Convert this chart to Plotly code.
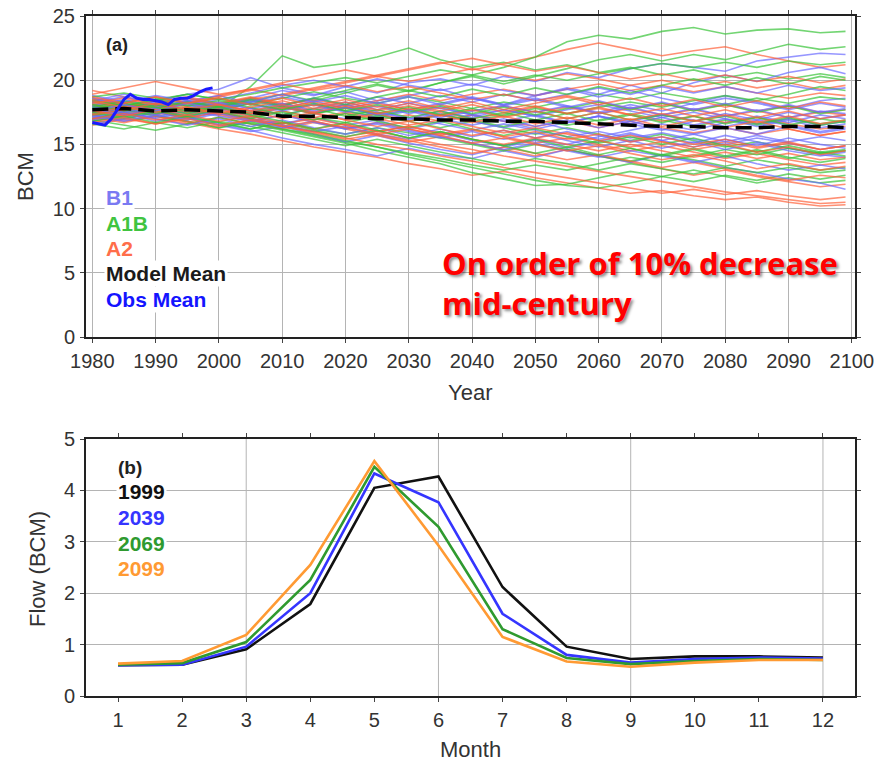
import plotly.graph_objects as go

# ---------------- data: panel (a) ----------------
years5 = [1980, 1985, 1990, 1995, 2000, 2005, 2010, 2015, 2020, 2025, 2030, 2035,
          2040, 2045, 2050, 2055, 2060, 2065, 2070, 2075, 2080, 2085, 2090, 2095, 2099]

b1_runs = [
    [17.5,17.9,18.2,17.6,18.0,18.6,19.2,18.8,19.5,19.0,19.8,20.1,19.6,20.3,19.9,20.6,20.2,20.9,21.3,21.0,20.7,21.5,21.8,22.1,22.0],
    [18.2,17.6,18.4,18.9,19.3,20.2,19.4,18.9,19.1,18.4,18.8,19.3,18.6,18.1,18.8,19.4,18.9,19.6,19.0,19.8,20.4,19.9,20.6,21.0,20.5],
    [17.0,17.4,16.8,17.3,17.8,17.2,16.6,17.1,16.5,16.9,16.2,16.7,17.3,16.8,16.2,16.7,17.2,16.6,16.1,16.8,17.4,16.9,17.5,17.0,17.3],
    [16.8,17.2,17.7,17.1,16.5,16.0,16.4,15.8,15.2,15.7,15.1,14.6,14.2,14.8,15.3,14.7,15.2,15.8,15.3,14.8,15.4,14.9,15.5,15.0,14.7],
    [18.6,18.1,17.7,18.3,17.9,17.3,17.8,18.4,17.8,18.3,17.7,18.2,18.7,18.1,18.6,18.0,17.5,18.1,17.6,18.2,18.8,18.3,17.8,18.4,18.6],
    [17.3,16.9,17.5,17.0,16.6,16.1,15.5,15.0,14.6,14.1,14.7,14.2,13.9,14.5,14.0,14.6,14.1,13.6,14.2,13.7,13.2,12.8,12.3,12.0,11.5],
    [18.0,18.5,17.9,18.4,18.8,18.2,18.7,18.2,17.6,17.1,17.6,17.0,16.5,17.0,16.4,16.9,16.3,16.8,16.2,15.8,16.3,15.8,16.4,15.9,16.2],
    [17.7,17.2,17.8,17.4,17.9,18.5,18.0,17.4,17.9,17.3,16.9,17.4,16.8,16.3,16.8,16.2,15.7,15.2,15.6,15.1,15.7,15.2,14.7,14.2,14.0],
    [16.6,17.0,17.5,17.0,17.5,17.0,16.5,16.0,16.4,15.8,15.4,15.9,15.3,14.9,15.4,15.0,15.6,16.1,16.6,16.1,16.7,17.2,16.7,17.3,17.0],
    [18.4,18.9,18.4,18.0,18.5,19.0,19.6,20.0,19.5,20.1,19.6,19.2,19.7,19.2,18.8,19.3,18.7,19.2,18.6,18.1,18.6,18.2,17.7,18.2,17.9],
    [17.9,17.5,17.1,17.6,17.2,16.8,17.3,16.7,16.2,16.7,16.1,15.6,15.1,14.6,15.1,14.5,14.0,14.5,14.1,13.6,14.1,13.5,13.0,13.4,13.1],
    [17.1,17.6,18.1,17.7,18.2,17.8,17.3,17.8,18.3,17.7,18.2,17.8,17.3,17.7,17.2,17.7,18.1,17.6,17.1,17.5,17.0,16.6,17.0,16.5,16.8],
    [18.8,18.3,18.8,18.4,17.9,17.4,17.9,17.4,17.0,17.5,17.1,16.6,16.1,16.6,16.1,15.6,16.0,15.5,15.9,15.4,15.0,15.5,15.1,14.6,14.9],
    [17.4,17.8,17.3,17.9,18.3,17.8,18.2,17.6,18.1,17.5,17.0,17.6,17.1,17.7,17.2,16.7,17.2,16.8,17.3,16.9,16.4,16.9,16.5,16.0,16.3],
    [18.0,17.5,17.9,18.4,17.9,18.4,18.0,18.6,18.1,18.7,18.2,18.8,18.3,18.9,18.4,18.9,19.4,18.9,19.5,19.0,19.5,19.0,19.6,19.2,19.4],
    [16.9,17.4,17.0,16.5,17.0,16.4,16.9,16.3,15.8,16.3,15.7,16.2,15.6,16.1,15.5,16.0,15.4,15.9,15.3,15.8,15.2,15.7,15.2,15.6,15.3],
    [17.8,17.3,17.8,17.2,17.6,18.2,17.6,18.1,17.5,18.0,17.4,17.9,17.3,16.8,17.3,16.7,17.2,16.6,17.1,16.5,17.0,16.4,16.9,16.3,16.6],
    [18.3,18.7,18.2,18.6,18.1,17.6,18.1,17.5,17.9,17.3,17.7,17.1,17.6,18.0,17.5,18.0,17.4,17.9,17.3,17.8,17.2,17.7,17.1,17.6,17.4],
    [17.2,16.8,17.3,16.9,17.4,16.9,16.3,16.8,16.2,16.6,16.0,15.5,16.0,15.4,15.9,15.3,14.8,15.3,14.7,15.2,14.6,15.1,14.5,14.1,14.4],
    [17.6,18.1,17.6,18.2,17.7,18.3,18.9,18.3,18.8,18.2,18.7,18.1,18.6,18.0,18.5,17.9,18.4,17.8,18.3,17.7,18.2,17.6,18.1,17.5,17.8],
]

a1b_runs = [
    [17.6,18.0,17.5,17.1,17.8,19.5,21.9,21.0,21.3,21.8,22.5,21.6,21.0,21.4,20.8,21.2,20.6,21.0,20.4,20.8,20.2,20.6,20.1,20.5,20.2],
    [17.9,17.4,17.9,18.3,17.8,18.3,18.9,18.4,19.0,19.6,19.1,19.8,20.4,21.0,21.8,23.0,23.5,23.2,23.8,24.1,23.6,23.9,24.0,23.7,23.8],
    [17.2,17.7,17.3,16.8,16.3,16.8,16.2,15.7,15.2,14.8,14.2,13.7,13.2,12.7,12.2,11.8,11.6,12.0,12.5,12.1,12.6,12.2,12.7,12.3,12.6],
    [18.3,17.8,18.2,17.7,18.1,18.6,18.1,18.6,19.2,19.7,19.2,19.8,20.3,19.7,20.3,20.9,21.6,22.0,21.5,22.0,21.6,22.2,22.8,22.4,22.6],
    [16.9,16.5,16.1,16.6,17.1,16.6,16.1,15.6,15.1,14.5,14.0,13.5,12.8,12.3,11.8,11.9,12.4,12.9,12.5,13.0,12.5,12.0,12.4,12.0,12.2],
    [17.8,18.2,17.7,18.1,17.6,17.1,17.6,17.1,16.7,17.2,16.8,16.3,16.8,16.3,15.8,16.3,15.8,15.3,15.8,15.3,14.8,15.2,14.7,14.3,14.5],
    [18.5,18.0,18.5,18.9,18.5,18.1,18.6,19.1,18.6,18.2,18.7,18.3,17.8,18.3,17.9,18.4,18.9,18.5,19.0,18.6,18.1,18.6,18.2,18.7,18.5],
    [17.4,17.0,17.5,17.1,16.7,16.2,16.7,16.2,15.8,16.3,15.9,15.5,15.0,14.5,15.0,14.6,14.1,13.7,14.2,13.8,13.3,13.8,13.4,13.0,13.2],
    [17.0,17.5,18.0,17.5,17.9,18.4,17.9,17.4,17.8,17.3,16.8,17.3,16.9,16.4,16.9,16.5,16.9,17.4,16.9,16.4,16.9,16.5,17.0,16.6,16.9],
    [18.1,17.7,17.2,16.8,16.3,16.7,16.2,15.8,15.3,14.8,14.3,13.9,13.4,13.0,13.4,13.0,13.5,14.0,13.6,14.1,14.6,14.2,14.7,14.3,14.5],
    [17.5,17.9,18.4,18.9,18.5,18.9,19.4,19.8,20.2,19.8,20.3,20.8,20.4,19.9,20.4,20.0,20.5,20.9,21.3,21.0,21.4,21.0,21.5,21.2,21.4],
    [16.6,16.2,16.7,16.3,16.8,16.4,15.9,15.4,14.9,15.4,14.9,14.4,13.9,13.4,13.9,13.5,13.0,13.5,13.1,12.7,13.2,12.8,13.2,12.8,13.0],
    [18.7,19.0,18.6,18.2,18.6,18.1,17.7,18.1,17.6,17.2,17.7,17.3,16.8,17.3,17.8,17.4,17.9,18.3,17.9,18.4,18.8,18.4,18.9,19.5,19.2],
    [17.3,17.8,17.4,17.9,17.5,17.0,17.5,16.9,17.4,16.8,16.3,16.8,16.2,15.7,16.2,15.6,15.1,15.6,15.0,15.5,14.9,14.4,14.9,14.4,14.6],
    [18.1,17.6,18.1,17.6,18.0,17.5,18.0,17.4,17.9,17.4,17.9,17.3,17.8,17.2,17.6,17.0,17.5,16.9,17.3,16.8,17.2,16.6,17.1,16.5,16.8],
    [17.7,18.2,17.8,18.3,17.9,18.5,18.0,18.6,18.1,18.7,19.2,18.7,19.3,18.8,19.4,18.9,19.5,19.0,19.6,20.1,19.6,20.2,19.7,20.3,20.0],
    [16.8,17.2,16.7,17.2,16.7,16.2,16.7,16.1,15.6,16.1,15.5,16.0,15.4,14.9,15.4,14.8,15.3,14.7,14.2,14.7,14.1,14.6,14.0,13.6,13.9],
    [18.4,18.0,18.5,18.0,18.4,17.9,17.3,17.8,17.2,17.7,17.1,17.6,17.0,17.5,16.9,17.4,16.8,17.3,16.7,17.2,16.6,17.1,16.5,17.0,16.7],
    [17.5,17.1,17.6,17.2,17.7,18.2,17.7,18.2,17.6,18.1,17.5,18.0,17.4,17.9,17.3,17.8,18.3,17.7,18.2,17.6,18.1,17.5,18.0,17.4,17.7],
    [17.9,18.4,17.9,17.4,17.9,17.3,16.8,16.2,16.7,16.1,15.5,16.0,15.4,14.9,14.3,14.8,14.2,14.7,14.1,14.6,14.0,14.5,13.9,14.4,14.1],
]

a2_runs = [
    [17.8,18.3,17.9,18.4,18.0,18.5,18.9,19.4,19.9,20.4,20.9,21.4,20.8,21.3,21.8,22.4,22.9,22.4,21.9,22.3,22.6,22.0,21.5,21.0,21.2],
    [17.3,16.8,17.2,16.7,16.2,15.8,15.3,14.8,14.4,14.0,13.5,13.1,12.6,12.9,12.4,12.0,11.6,11.2,11.4,11.0,10.7,10.9,10.5,10.2,10.3],
    [18.6,18.2,18.7,18.3,18.8,19.3,18.8,19.3,19.8,20.3,19.9,20.4,20.9,20.4,20.0,20.5,20.1,19.6,20.0,19.5,19.9,19.4,19.8,19.3,19.6],
    [17.0,17.5,17.0,16.6,17.1,16.6,16.2,16.7,16.2,15.7,15.2,15.6,15.1,14.6,14.1,14.6,14.1,13.6,13.1,12.6,13.0,12.5,12.1,11.7,11.9],
    [18.0,17.6,18.1,17.7,17.3,17.8,17.3,16.9,17.4,16.9,17.3,16.8,17.3,16.8,16.4,16.8,16.3,16.8,16.3,15.9,16.3,15.8,16.2,15.7,16.0],
    [16.5,17.0,16.6,17.1,17.5,17.0,16.5,16.0,15.5,15.0,14.6,14.1,13.7,13.2,12.8,12.4,12.0,11.6,11.2,11.5,11.1,11.4,11.0,10.7,10.9],
    [19.2,18.7,18.3,18.7,18.2,18.6,18.1,18.5,18.0,18.4,18.9,18.4,18.9,19.3,18.8,19.3,19.7,19.2,19.6,19.1,19.5,19.0,18.6,19.0,18.8],
    [17.5,17.9,17.4,17.8,17.3,16.8,17.3,16.8,16.3,16.7,16.2,15.7,16.1,15.6,15.1,15.5,15.0,14.5,14.9,14.4,13.9,14.3,13.8,13.4,13.6],
    [18.3,17.8,17.3,17.8,18.2,18.7,18.2,17.7,18.1,17.6,18.0,17.5,17.0,17.4,17.9,17.4,17.8,17.3,16.8,17.2,16.7,17.1,16.6,16.2,16.4],
    [17.1,16.7,17.2,16.8,16.4,16.9,16.4,15.9,15.4,15.8,15.3,14.8,14.3,14.8,14.3,13.8,14.2,13.7,13.2,13.6,13.1,12.6,12.2,12.6,12.4],
    [18.9,19.4,19.9,19.4,18.9,19.3,19.8,20.3,20.8,20.3,20.8,21.3,21.7,21.2,20.7,21.1,20.6,20.1,20.5,20.0,20.4,19.9,20.3,19.8,20.1],
    [17.6,18.0,17.6,17.1,17.5,17.0,16.6,17.0,16.5,16.0,16.4,15.9,15.4,15.0,15.5,15.0,14.5,15.0,14.5,14.0,14.4,13.9,14.3,13.8,14.0],
    [16.9,17.3,17.8,18.2,17.7,17.2,17.6,17.1,17.5,17.0,16.5,16.9,16.4,15.9,16.3,15.8,15.3,15.7,15.2,14.8,15.2,14.7,15.1,14.6,14.9],
    [18.1,17.6,18.0,17.5,17.9,17.4,17.8,18.3,17.8,18.2,17.7,18.1,17.6,18.0,17.5,17.9,17.4,17.8,17.3,17.7,17.2,17.6,17.1,17.5,17.3],
    [17.4,17.9,18.4,17.9,17.4,16.9,16.4,16.0,15.6,16.0,15.5,15.0,14.6,14.1,13.7,13.3,12.9,12.5,12.1,11.7,11.3,11.0,10.7,10.4,10.5],
    [18.5,18.1,17.7,18.2,18.7,19.2,19.7,19.2,19.6,19.1,19.5,19.0,18.5,18.9,18.4,18.8,18.3,17.8,18.2,17.7,18.1,17.6,18.0,17.5,17.7],
    [17.6,17.2,17.7,17.3,17.8,17.4,17.9,17.4,16.9,17.4,16.8,17.3,16.7,17.2,16.6,17.1,16.5,17.0,16.4,16.9,16.3,16.8,16.2,15.7,16.0],
    [18.2,18.6,18.1,18.6,18.1,17.6,18.1,17.5,18.0,17.4,17.8,17.2,17.7,17.1,17.6,17.0,17.5,16.9,17.4,16.8,17.3,16.7,17.2,16.6,16.9],
    [17.0,17.4,16.9,17.3,16.8,17.2,16.7,16.2,16.6,16.0,16.4,15.8,16.2,15.6,16.0,15.4,15.8,15.2,15.6,15.0,15.4,14.8,15.2,14.6,14.9],
    [18.7,18.2,18.7,18.2,18.6,18.1,18.6,18.0,18.5,17.9,18.4,17.8,18.3,17.7,18.2,18.7,18.1,18.6,18.0,18.5,17.9,18.4,17.8,18.3,18.0],
    [17.3,17.7,18.2,17.7,18.1,17.6,17.0,17.5,16.9,16.4,16.8,16.2,15.7,16.1,15.5,15.9,15.3,14.8,15.2,14.6,15.0,14.4,14.8,14.2,14.5],
    [18.4,17.9,17.5,17.9,17.4,17.9,18.4,17.8,18.3,17.7,18.2,17.6,18.1,17.5,18.0,17.4,17.9,17.3,17.8,17.2,17.7,17.1,17.6,17.0,17.3],
    [16.7,17.1,16.6,17.0,16.5,16.9,16.4,16.8,16.3,15.8,16.2,15.7,15.1,15.5,15.0,14.5,14.9,14.3,13.8,14.2,13.7,13.1,13.5,13.0,13.3],
]

model_mean = [17.7,17.8,17.6,17.7,17.6,17.5,17.2,17.2,17.1,17.0,17.0,16.9,
              16.9,16.8,16.8,16.7,16.6,16.5,16.4,16.4,16.3,16.3,16.4,16.4,16.3]

obs_years = list(range(1980, 2000))
obs_mean = [16.7,16.6,16.5,17.0,17.8,18.5,18.9,18.6,18.5,18.5,
            18.4,18.3,18.1,18.5,18.6,18.6,18.8,19.1,19.3,19.4]

year_ticks = list(range(1980, 2101, 10))

# ---------------- data: panel (b) ----------------
months = list(range(1, 13))
flow_1999 = [0.60,0.61,0.91,1.79,4.05,4.27,2.12,0.96,0.72,0.77,0.77,0.75]
flow_2039 = [0.60,0.61,0.96,2.00,4.33,3.77,1.60,0.80,0.65,0.72,0.75,0.73]
flow_2069 = [0.61,0.64,1.05,2.26,4.46,3.29,1.30,0.74,0.62,0.68,0.72,0.70]
flow_2099 = [0.63,0.68,1.19,2.55,4.57,2.93,1.15,0.67,0.57,0.65,0.70,0.70]
month_grid = [3, 6, 9, 12]

# ---------------- layout geometry helpers ----------------
W, H = 882, 761
ML, MR, MT, MB = 86, 27, 16, 65
PW, PH = W - ML - MR, H - MT - MB


def px_x(px):
    return (px - ML) / PW


def px_y(py):
    return (H - MB - py) / PH


C_B1 = "rgba(105,105,255,0.7)"
C_A1B = "rgba(55,195,55,0.7)"
C_A2 = "rgba(255,95,55,0.7)"

fig = go.Figure()

nmax = max(len(b1_runs), len(a1b_runs), len(a2_runs))
for i in range(nmax):
    for runs, col in ((b1_runs, C_B1), (a1b_runs, C_A1B), (a2_runs, C_A2)):
        if i < len(runs):
            fig.add_trace(go.Scatter(x=years5, y=runs[i], mode="lines",
                                     line=dict(color=col, width=1.6),
                                     xaxis="x", yaxis="y", showlegend=False,
                                     hoverinfo="skip"))

fig.add_trace(go.Scatter(x=years5, y=model_mean, mode="lines",
                         line=dict(color="black", width=3.5, dash="16px,7px"),
                         xaxis="x", yaxis="y", showlegend=False))
fig.add_trace(go.Scatter(x=obs_years, y=obs_mean, mode="lines",
                         line=dict(color="#1a1aff", width=3),
                         xaxis="x", yaxis="y", showlegend=False))

for vals, col in ((flow_1999, "#111111"), (flow_2039, "#3535ff"),
                  (flow_2069, "#2f9a2f"), (flow_2099, "#ff9a33")):
    fig.add_trace(go.Scatter(x=months, y=vals, mode="lines",
                             line=dict(color=col, width=2.6),
                             xaxis="x2", yaxis="y2", showlegend=False))

tickfont = dict(family="Liberation Sans, Arial, sans-serif", size=20, color="#333333")
axis_common = dict(showline=True, linecolor="#222222", linewidth=2, mirror="ticks",
                   ticks="outside", ticklen=4, tickcolor="#444444", tickwidth=1,
                   tickfont=tickfont, zeroline=False, gridcolor="#b4b4b4",
                   gridwidth=1, ticklabelstandoff=1)

fig.update_layout(
    width=W, height=H,
    margin=dict(l=ML, r=MR, t=MT, b=MB, autoexpand=False),
    paper_bgcolor="white", plot_bgcolor="white",
    showlegend=False,
    xaxis=dict(axis_common, domain=[0, 1], anchor="y", range=[1979, 2100.5],
               tickvals=year_ticks, showgrid=True),
    yaxis=dict(axis_common, domain=[px_y(337), 1], anchor="x", range=[0, 25],
               dtick=5, tick0=0, showgrid=True),
    xaxis2=dict(axis_common, domain=[0, 1], anchor="y2", range=[0.5, 12.5],
                tickvals=months, showgrid=False),
    yaxis2=dict(axis_common, domain=[0, px_y(439)], anchor="x2", range=[0, 5],
                dtick=1, tick0=0, showgrid=True),
)

shapes = []
for m in month_grid:
    shapes.append(dict(type="line", xref="x2", yref="y2", x0=m, x1=m, y0=0, y1=5,
                       line=dict(color="#b4b4b4", width=1), layer="below"))
fig.update_layout(shapes=shapes)

title_font = dict(family="Liberation Sans, Arial, sans-serif", size=22, color="#333333")


def title(text, xpx, ypx, angle=0):
    return dict(text=text, xref="paper", yref="paper", x=px_x(xpx), y=px_y(ypx),
                xanchor="center", yanchor="middle", textangle=angle,
                showarrow=False, font=title_font)


ann = [
    title("BCM", 25, 177, -90),
    title("Year", 470, 392),
    title("Flow (BCM)", 37, 569, -90),
    title("Month", 470, 749),
]

lab_family = "Liberation Sans, Arial, sans-serif"


def label(text, xpx, ypx, color, size=21, bg=True):
    d = dict(text="<b>%s</b>" % text, xref="paper", yref="paper",
             x=px_x(xpx), y=px_y(ypx), xanchor="left", yanchor="middle",
             showarrow=False, font=dict(family=lab_family, size=size, color=color),
             borderpad=1)
    if bg:
        d["bgcolor"] = "white"
    return d


ann.append(label("(a)", 104, 45, "#222222", size=18, bg=False))
ann.append(label("B1", 104, 197, "#7a7af2"))
ann.append(label("A1B", 104, 223, "#40c440"))
ann.append(label("A2", 104, 248, "#ff6e4a"))
ann.append(label("Model Mean", 104, 273, "#1a1a1a"))
ann.append(label("Obs Mean", 104, 299, "#1414ff"))

ann.append(label("(b)", 116, 467, "#222222", size=19, bg=False))
ann.append(label("1999", 116, 492, "#111111"))
ann.append(label("2039", 116, 517, "#3535ff"))
ann.append(label("2069", 116, 543, "#2f9a2f"))
ann.append(label("2099", 116, 568, "#ff9a33"))

ann.append(dict(text="<b>On order of 10% decrease<br>mid-century</b>",
                xref="paper", yref="paper", x=px_x(440), y=px_y(283),
                xanchor="left", yanchor="middle", align="left", showarrow=False,
                font=dict(family="Open Sans, Noto Sans, sans-serif", size=31,
                          color="#ff0000", shadow="2px 2px 3px rgba(0,0,0,0.45)")))

fig.update_layout(annotations=ann)

fig.write_html("out.html", config={"displayModeBar": False},
               post_script="document.body.style.margin='0';document.body.style.overflow='hidden';")
